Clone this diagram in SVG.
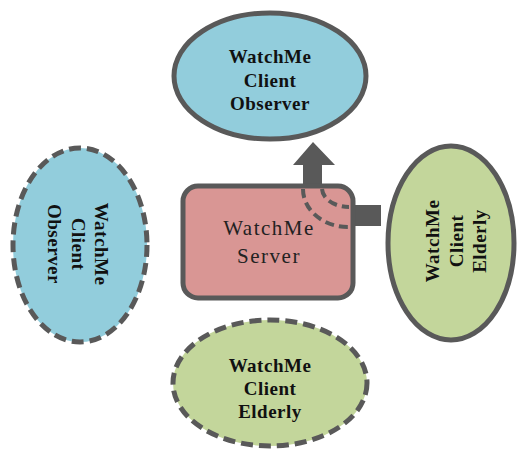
<svg xmlns="http://www.w3.org/2000/svg" width="517" height="454" viewBox="0 0 517 454">
<style>
.blue{fill:#92cddc}
.green{fill:#c3d69b}
.solid{stroke:#595959;stroke-width:5}
.dash{stroke:#595959;stroke-width:5;stroke-dasharray:12 6}
.lbl{font-family:"Liberation Serif","Times New Roman",serif;font-weight:bold;font-size:19px;fill:#111;text-anchor:middle;letter-spacing:0.5px}
.srv{font-family:"Liberation Serif","Times New Roman",serif;font-size:21px;fill:#222;text-anchor:middle;letter-spacing:1.5px}
</style>
<rect width="517" height="454" fill="#fff"/>
<g id="client-observer-top">
<ellipse cx="270" cy="76" rx="96" ry="63" class="blue solid"/>
<text class="lbl" x="270" y="63">WatchMe</text>
<text class="lbl" x="270" y="87">Client</text>
<text class="lbl" x="270" y="110">Observer</text>
</g>
<g id="client-observer-left">
<ellipse cx="80" cy="245" rx="67" ry="97" class="blue dash"/>
<g transform="translate(80,244) rotate(90)">
<text class="lbl" x="0" y="-15">WatchMe</text>
<text class="lbl" x="0" y="8">Client</text>
<text class="lbl" x="0" y="32">Observer</text>
</g>
</g>
<g id="client-elderly-right">
<ellipse cx="451" cy="243" rx="63" ry="97" class="green solid"/>
<g transform="translate(451,241) rotate(-90)">
<text class="lbl" x="0" y="-12">WatchMe</text>
<text class="lbl" x="0" y="12">Client</text>
<text class="lbl" x="0" y="35">Elderly</text>
</g>
</g>
<g id="client-elderly-bottom">
<ellipse cx="270" cy="383" rx="97" ry="63" class="green dash"/>
<text class="lbl" x="270" y="372">WatchMe</text>
<text class="lbl" x="270" y="395">Client</text>
<text class="lbl" x="270" y="418">Elderly</text>
</g>
<g id="connectors">
<path d="M313,142 L293,165 L303,165 L303,200 L322,200 L322,165 L335,165 Z" fill="#595959"/>
<rect x="340" y="205" width="41" height="21" fill="#595959"/>
</g>
<g id="server">
<rect x="183" y="186" width="170" height="112" rx="15" fill="#d99694" class="solid"/>
<text class="srv" x="269" y="235">WatchMe</text>
<text class="srv" x="269" y="263">Server</text>
</g>
<g id="hidden-path" fill="none" stroke="#595959" stroke-width="4" stroke-dasharray="9 5">
<path d="M303,189 A45,38 0 0 0 349,227"/>
<path d="M322,189 A27,19 0 0 0 349,207"/>
</g>
</svg>
